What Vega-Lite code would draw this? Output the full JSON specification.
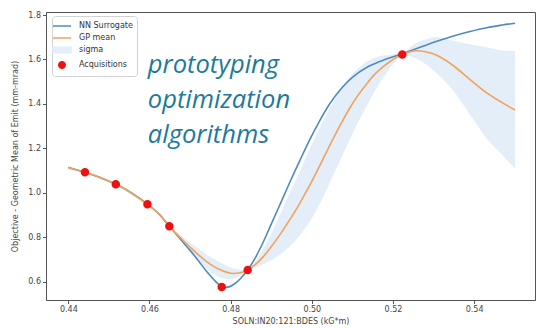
{
  "$schema": "https://vega.github.io/schema/vega-lite/v6.json",
  "width": 489,
  "height": 288,
  "autosize": "none",
  "padding": {"left": 46, "top": 12, "right": 2, "bottom": 28},
  "background": "white",
  "config": {
    "view": {"stroke": "#555555", "strokeWidth": 1},
    "axis": {
      "grid": false,
      "domainColor": "#555555",
      "tickColor": "#555555",
      "tickSize": 3.5,
      "labelColor": "#444444",
      "titleColor": "#444444",
      "labelFont": "DejaVu Sans",
      "titleFont": "DejaVu Sans",
      "labelFontSize": 8,
      "titleFontSize": 8,
      "titleFontWeight": "normal",
      "labelPadding": 2
    },
    "legend": {
      "orient": "none",
      "legendX": 6,
      "legendY": 4,
      "padding": 4,
      "fillColor": "white",
      "strokeColor": "#d2d2d2",
      "cornerRadius": 3,
      "symbolSize": 100,
      "symbolStrokeWidth": 1.5,
      "symbolOpacity": 1,
      "labelFont": "DejaVu Sans",
      "labelFontSize": 8,
      "labelColor": "#333333",
      "labelOffset": 11,
      "rowPadding": 2
    }
  },
  "datasets": {
    "nn": [
      {"x": 0.4400, "y": 1.115}, {"x": 0.4441, "y": 1.093}, {"x": 0.4480, "y": 1.068},
      {"x": 0.4517, "y": 1.040}, {"x": 0.4555, "y": 1.001}, {"x": 0.4595, "y": 0.950},
      {"x": 0.4625, "y": 0.903}, {"x": 0.4649, "y": 0.850}, {"x": 0.4675, "y": 0.795},
      {"x": 0.4700, "y": 0.742}, {"x": 0.4720, "y": 0.697}, {"x": 0.4740, "y": 0.649},
      {"x": 0.4757, "y": 0.614}, {"x": 0.4770, "y": 0.590}, {"x": 0.4783, "y": 0.577},
      {"x": 0.4796, "y": 0.578}, {"x": 0.4810, "y": 0.592}, {"x": 0.4825, "y": 0.617},
      {"x": 0.4842, "y": 0.654}, {"x": 0.4860, "y": 0.706}, {"x": 0.4881, "y": 0.782},
      {"x": 0.4900, "y": 0.860}, {"x": 0.4922, "y": 0.950}, {"x": 0.4945, "y": 1.045},
      {"x": 0.4971, "y": 1.148}, {"x": 0.4995, "y": 1.240}, {"x": 0.5018, "y": 1.320},
      {"x": 0.5043, "y": 1.398}, {"x": 0.5069, "y": 1.462}, {"x": 0.5100, "y": 1.520},
      {"x": 0.5135, "y": 1.564}, {"x": 0.5175, "y": 1.596}, {"x": 0.5223, "y": 1.626},
      {"x": 0.5267, "y": 1.655}, {"x": 0.5310, "y": 1.683}, {"x": 0.5349, "y": 1.706},
      {"x": 0.5390, "y": 1.726}, {"x": 0.5431, "y": 1.743}, {"x": 0.5470, "y": 1.755},
      {"x": 0.5501, "y": 1.763}
    ],
    "gp": [
      {"x": 0.4400, "y": 1.113}, {"x": 0.4441, "y": 1.093}, {"x": 0.4480, "y": 1.068},
      {"x": 0.4517, "y": 1.039}, {"x": 0.4555, "y": 1.000}, {"x": 0.4595, "y": 0.949},
      {"x": 0.4625, "y": 0.903}, {"x": 0.4649, "y": 0.850}, {"x": 0.4675, "y": 0.801},
      {"x": 0.4700, "y": 0.757}, {"x": 0.4720, "y": 0.723}, {"x": 0.4740, "y": 0.693},
      {"x": 0.4760, "y": 0.668}, {"x": 0.4780, "y": 0.650}, {"x": 0.4800, "y": 0.639},
      {"x": 0.4820, "y": 0.640}, {"x": 0.4842, "y": 0.654}, {"x": 0.4862, "y": 0.680},
      {"x": 0.4881, "y": 0.715}, {"x": 0.4900, "y": 0.758}, {"x": 0.4922, "y": 0.814},
      {"x": 0.4945, "y": 0.878}, {"x": 0.4966, "y": 0.940}, {"x": 0.4990, "y": 1.018},
      {"x": 0.5012, "y": 1.095}, {"x": 0.5033, "y": 1.172}, {"x": 0.5053, "y": 1.245},
      {"x": 0.5074, "y": 1.318}, {"x": 0.5094, "y": 1.383}, {"x": 0.5115, "y": 1.442},
      {"x": 0.5135, "y": 1.490}, {"x": 0.5155, "y": 1.533}, {"x": 0.5176, "y": 1.568},
      {"x": 0.5200, "y": 1.600}, {"x": 0.5223, "y": 1.622}, {"x": 0.5240, "y": 1.634},
      {"x": 0.5258, "y": 1.639}, {"x": 0.5280, "y": 1.635}, {"x": 0.5308, "y": 1.619},
      {"x": 0.5349, "y": 1.572}, {"x": 0.5390, "y": 1.510}, {"x": 0.5431, "y": 1.450},
      {"x": 0.5470, "y": 1.405}, {"x": 0.5501, "y": 1.373}
    ],
    "sigma": [
      {"x": 0.4400, "lo": 1.105, "hi": 1.121}, {"x": 0.4441, "lo": 1.091, "hi": 1.095},
      {"x": 0.4480, "lo": 1.062, "hi": 1.074}, {"x": 0.4517, "lo": 1.037, "hi": 1.041},
      {"x": 0.4555, "lo": 0.994, "hi": 1.006}, {"x": 0.4595, "lo": 0.947, "hi": 0.951},
      {"x": 0.4625, "lo": 0.898, "hi": 0.908}, {"x": 0.4649, "lo": 0.848, "hi": 0.852},
      {"x": 0.4675, "lo": 0.789, "hi": 0.813}, {"x": 0.4700, "lo": 0.738, "hi": 0.776},
      {"x": 0.4720, "lo": 0.695, "hi": 0.751}, {"x": 0.4740, "lo": 0.661, "hi": 0.725},
      {"x": 0.4760, "lo": 0.634, "hi": 0.702}, {"x": 0.4780, "lo": 0.618, "hi": 0.682},
      {"x": 0.4800, "lo": 0.613, "hi": 0.665}, {"x": 0.4820, "lo": 0.624, "hi": 0.656},
      {"x": 0.4842, "lo": 0.651, "hi": 0.657}, {"x": 0.4862, "lo": 0.665, "hi": 0.695},
      {"x": 0.4881, "lo": 0.680, "hi": 0.750}, {"x": 0.4900, "lo": 0.698, "hi": 0.818},
      {"x": 0.4922, "lo": 0.724, "hi": 0.904}, {"x": 0.4945, "lo": 0.758, "hi": 0.998},
      {"x": 0.4966, "lo": 0.800, "hi": 1.080}, {"x": 0.4990, "lo": 0.858, "hi": 1.178},
      {"x": 0.5012, "lo": 0.925, "hi": 1.265}, {"x": 0.5033, "lo": 1.002, "hi": 1.342},
      {"x": 0.5053, "lo": 1.080, "hi": 1.410}, {"x": 0.5074, "lo": 1.163, "hi": 1.473},
      {"x": 0.5094, "lo": 1.243, "hi": 1.523}, {"x": 0.5115, "lo": 1.322, "hi": 1.562},
      {"x": 0.5135, "lo": 1.390, "hi": 1.590}, {"x": 0.5155, "lo": 1.458, "hi": 1.608},
      {"x": 0.5176, "lo": 1.518, "hi": 1.618}, {"x": 0.5200, "lo": 1.577, "hi": 1.623},
      {"x": 0.5223, "lo": 1.618, "hi": 1.626}, {"x": 0.5240, "lo": 1.616, "hi": 1.652},
      {"x": 0.5258, "lo": 1.603, "hi": 1.675}, {"x": 0.5280, "lo": 1.580, "hi": 1.690},
      {"x": 0.5308, "lo": 1.537, "hi": 1.701}, {"x": 0.5349, "lo": 1.460, "hi": 1.684},
      {"x": 0.5390, "lo": 1.352, "hi": 1.668}, {"x": 0.5431, "lo": 1.245, "hi": 1.655},
      {"x": 0.5470, "lo": 1.170, "hi": 1.640}, {"x": 0.5501, "lo": 1.108, "hi": 1.638}
    ],
    "acq": [
      {"series": "Acquisitions", "x": 0.4441, "y": 1.093},
      {"series": "Acquisitions", "x": 0.4517, "y": 1.039},
      {"series": "Acquisitions", "x": 0.4595, "y": 0.949},
      {"series": "Acquisitions", "x": 0.4649, "y": 0.850},
      {"series": "Acquisitions", "x": 0.4778, "y": 0.577},
      {"series": "Acquisitions", "x": 0.4842, "y": 0.654},
      {"series": "Acquisitions", "x": 0.5223, "y": 1.622}
    ],
    "caption": [
      {"x": 0.4596, "y": 1.539, "label": "prototyping"},
      {"x": 0.4596, "y": 1.382, "label": "optimization"},
      {"x": 0.4596, "y": 1.225, "label": "algorithms"}
    ]
  },
  "layer": [
    {
      "data": {"name": "sigma"},
      "mark": {"type": "area", "color": "#e4eef8", "opacity": 1, "interpolate": "catmull-rom"},
      "encoding": {
        "x": {"field": "x", "type": "quantitative", "title": "SOLN:IN20:121:BDES (kG*m)",
              "scale": {"domain": [0.4345, 0.555], "nice": false, "zero": false},
              "axis": {"values": [0.44, 0.46, 0.48, 0.50, 0.52, 0.54], "format": ".2f"}},
        "y": {"field": "lo", "type": "quantitative", "title": "Objective - Geometric Mean of Emit (mm-mrad)",
              "scale": {"domain": [0.519, 1.8135], "nice": false, "zero": false},
              "axis": {"values": [0.6, 0.8, 1.0, 1.2, 1.4, 1.6, 1.8], "format": ".1f", "titlePadding": 8}},
        "y2": {"field": "hi"}
      }
    },
    {
      "data": {"name": "nn"},
      "mark": {"type": "line", "color": "#4f8bbd", "strokeWidth": 1.6, "interpolate": "catmull-rom"},
      "encoding": {
        "x": {"field": "x", "type": "quantitative", "title": "SOLN:IN20:121:BDES (kG*m)"},
        "y": {"field": "y", "type": "quantitative", "title": "Objective - Geometric Mean of Emit (mm-mrad)"}
      }
    },
    {
      "data": {"name": "gp"},
      "mark": {"type": "line", "color": "#f2a25c", "strokeWidth": 1.6, "interpolate": "catmull-rom"},
      "encoding": {
        "x": {"field": "x", "type": "quantitative", "title": "SOLN:IN20:121:BDES (kG*m)"},
        "y": {"field": "y", "type": "quantitative", "title": "Objective - Geometric Mean of Emit (mm-mrad)"}
      }
    },
    {
      "data": {"name": "acq"},
      "mark": {"type": "point", "filled": true, "size": 100, "opacity": 1},
      "encoding": {
        "x": {"field": "x", "type": "quantitative", "title": "SOLN:IN20:121:BDES (kG*m)"},
        "y": {"field": "y", "type": "quantitative", "title": "Objective - Geometric Mean of Emit (mm-mrad)"},
        "fill": {"field": "series", "type": "nominal", "title": null,
                 "scale": {"domain": ["NN Surrogate", "GP mean", "sigma", "Acquisitions"],
                           "range": ["#4f8bbd", "#f2a25c", "#e4eef8", "#ee1111"]}},
        "stroke": {"field": "series", "type": "nominal", "title": null,
                   "scale": {"domain": ["NN Surrogate", "GP mean", "sigma", "Acquisitions"],
                             "range": ["#4f8bbd", "#f2a25c", "#e4eef8", "#ee1111"]}},
        "shape": {"field": "series", "type": "nominal", "title": null,
                  "scale": {"domain": ["NN Surrogate", "GP mean", "sigma", "Acquisitions"],
                            "range": ["M-1.8,0H1.8", "M-1.8,0H1.8", "M-1.8,-0.55H1.8V0.55H-1.8Z",
                                      "M0.65,0A0.65,0.65 0 1,1 -0.65,0A0.65,0.65 0 1,1 0.65,0Z"]}}
      }
    },
    {
      "data": {"name": "caption"},
      "mark": {"type": "text", "font": "Open Sans", "fontStyle": "italic", "fontSize": 25.5,
               "color": "#1b7a9a", "align": "left", "baseline": "alphabetic"},
      "encoding": {
        "x": {"field": "x", "type": "quantitative", "title": "SOLN:IN20:121:BDES (kG*m)"},
        "y": {"field": "y", "type": "quantitative", "title": "Objective - Geometric Mean of Emit (mm-mrad)"},
        "text": {"field": "label"}
      }
    }
  ]
}
